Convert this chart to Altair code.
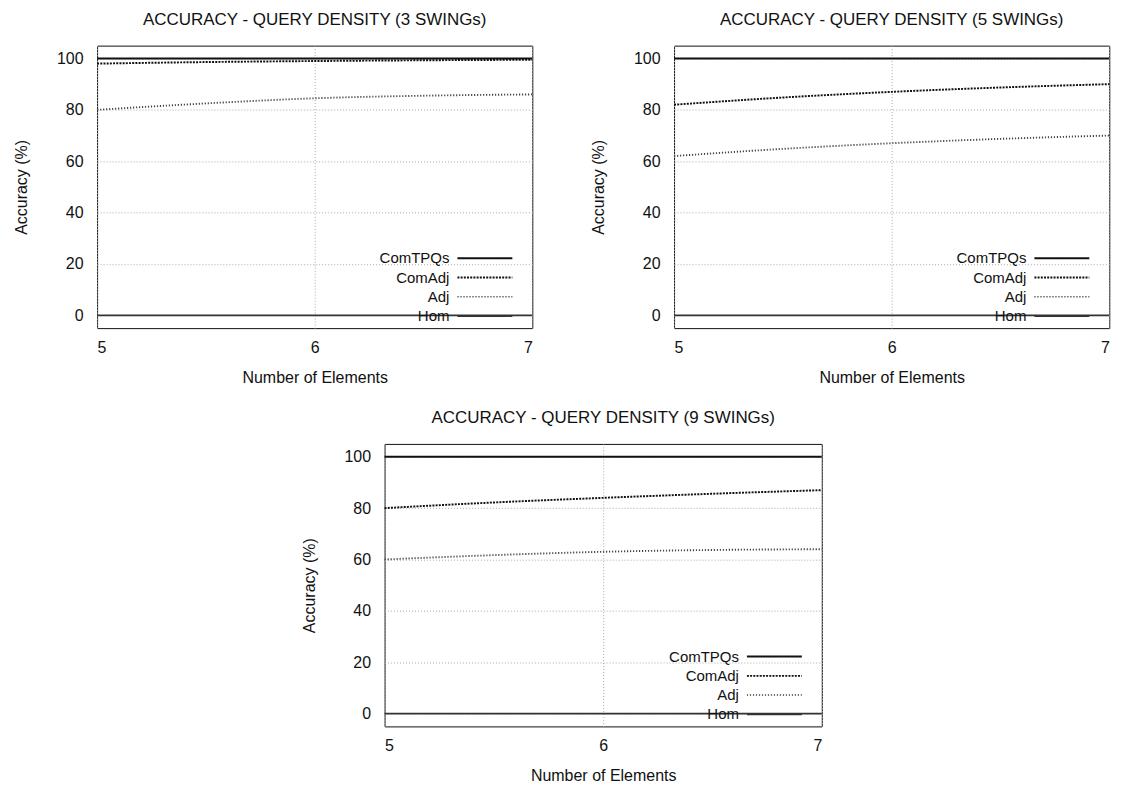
import altair as alt
import pandas as pd

series = ["ComTPQs", "ComAdj", "Adj", "Hom"]
xs = [5, 5.5, 6, 6.5, 7]
x_ticks = [5, 6, 7]
y_ticks = [0, 20, 40, 60, 80, 100]

titles = [
    "ACCURACY - QUERY DENSITY (3 SWINGs)",
    "ACCURACY - QUERY DENSITY (5 SWINGs)",
    "ACCURACY - QUERY DENSITY (9 SWINGs)",
]

comtpqs_3 = [100, 100, 100, 100, 100]
comadj_3 = [98, 98.6, 99, 99.3, 99.5]
adj_3 = [80, 82.5, 84.5, 85.5, 86]
hom_3 = [0, 0, 0, 0, 0]

comtpqs_5 = [100, 100, 100, 100, 100]
comadj_5 = [82, 84.8, 87, 88.7, 90]
adj_5 = [62, 64.8, 67, 68.7, 70]
hom_5 = [0, 0, 0, 0, 0]

comtpqs_9 = [100, 100, 100, 100, 100]
comadj_9 = [80, 82.2, 84, 85.6, 87]
adj_9 = [60, 61.7, 63, 63.7, 64]
hom_9 = [0, 0, 0, 0, 0]

panel_data = [
    [comtpqs_3, comadj_3, adj_3, hom_3],
    [comtpqs_5, comadj_5, adj_5, hom_5],
    [comtpqs_9, comadj_9, adj_9, hom_9],
]

FONT = "Liberation Sans"
H = 283

styles = {
    "ComTPQs": dict(color="#111111", dash=[1, 0], width=2.0),
    "ComAdj": dict(color="#111111", dash=[2, 1.2], width=1.8),
    "Adj": dict(color="#444444", dash=[1.2, 1.8], width=1.5),
    "Hom": dict(color="#333333", dash=[1, 0], width=1.8),
}

axis_common = dict(
    grid=True, gridDash=[1, 2], gridColor="#aaaaaa",
    domain=False, ticks=False, labelOverlap=False,
    labelFont=FONT, titleFont=FONT, labelFontSize=16, titleFontSize=16,
    titleFontWeight="normal", labelColor="#111111", titleColor="#111111",
)


def make_panel(title, values, W):
    rows = []
    for s, vals in zip(series, values):
        for x, v in zip(xs, vals):
            rows.append({"series": s, "x": x, "y": v})
    df = pd.DataFrame(rows)

    xenc = alt.X(
        "x:Q",
        scale=alt.Scale(domain=[min(x_ticks), max(x_ticks)], nice=False, zero=False),
        axis=alt.Axis(
            tickCount=2, format="d", title="Number of Elements",
            labelPadding=11, titlePadding=14, **axis_common,
        ),
    )
    yenc = alt.Y(
        "y:Q",
        scale=alt.Scale(domain=[-5, 105], nice=False, zero=False),
        axis=alt.Axis(
            values=y_ticks, title="Accuracy (%)",
            labelPadding=14, titlePadding=27, **axis_common,
        ),
    )

    lines = alt.Chart(df).mark_line(interpolate="monotone").encode(
        x=xenc,
        y=yenc,
        color=alt.Color("series:N", scale=alt.Scale(domain=series, range=[styles[s]["color"] for s in series]), legend=None),
        strokeDash=alt.StrokeDash("series:N", scale=alt.Scale(domain=series, range=[styles[s]["dash"] for s in series]), legend=None),
        strokeWidth=alt.StrokeWidth("series:N", scale=alt.Scale(domain=series, range=[styles[s]["width"] for s in series]), legend=None),
        detail="series:N",
    )

    layers = [lines]
    base_y = 213
    step = 19.3
    for i, s in enumerate(series):
        ly = base_y + i * step
        st = styles[s]
        lbl = pd.DataFrame({"label": [s]})
        layers.append(
            alt.Chart(lbl).mark_text(
                align="right", baseline="middle", font=FONT, fontSize=15, color="#111111"
            ).encode(x=alt.value(W - 83), y=alt.value(ly), text="label:N")
        )
        layers.append(
            alt.Chart(lbl).mark_rule(
                color=st["color"], strokeDash=st["dash"], strokeWidth=st["width"]
            ).encode(x=alt.value(W - 75), x2=alt.value(W - 20), y=alt.value(ly))
        )

    return alt.layer(*layers).properties(
        width=W, height=H,
        title=alt.TitleParams(title, font=FONT, fontSize=17, fontWeight="normal", color="#111111", offset=17),
    )


p1 = make_panel(titles[0], panel_data[0], 436)
p2 = make_panel(titles[1], panel_data[1], 436)
p3 = make_panel(titles[2], panel_data[2], 438)

chart = alt.vconcat(
    alt.hconcat(p1, p2, spacing=52),
    p3,
    spacing=22,
    center=True,
).properties(
    background="white",
    padding={"left": 5, "top": 1, "right": 5, "bottom": 0},
).configure_view(
    stroke="#111111", strokeWidth=1
)

chart.save("out.html", embed_options={"renderer": "svg", "actions": False})
